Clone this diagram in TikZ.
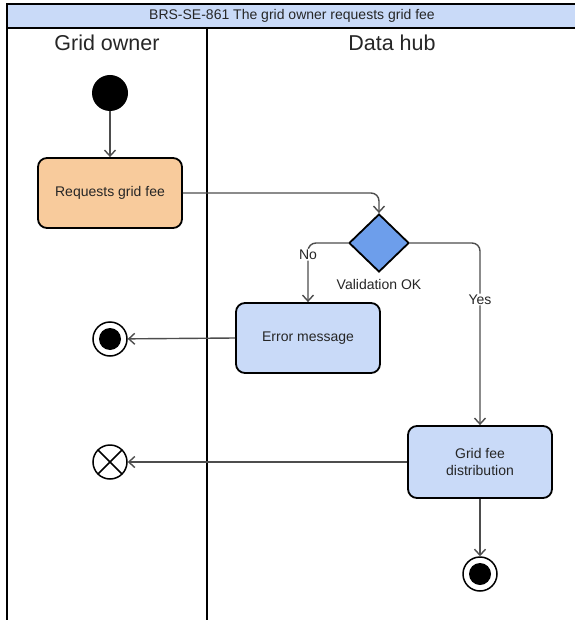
\documentclass[tikz,border=0pt]{standalone}
\usepackage{fontspec}
\setmainfont{Liberation Sans}
\usetikzlibrary{shapes.geometric,arrows.meta}
\definecolor{peach}{HTML}{F8CB9C}
\definecolor{lblue}{HTML}{C9DAF8}
\definecolor{dblue}{HTML}{6D9EEB}
\definecolor{txt}{HTML}{262626}
\definecolor{conn}{HTML}{4D4D4D}
\tikzset{
  actbox/.style={draw=black, line width=1.8pt, rounded corners=9pt, minimum width=144pt, minimum height=70pt, inner sep=0pt, align=center, text=txt, font=\fontsize{14}{17}\selectfont},
  connline/.style={draw=conn, line width=1.4pt, -{Straight Barb[length=6pt,width=11pt]}, rounded corners=8pt},
  lbl/.style={text=txt, font=\fontsize{14}{17}\selectfont, inner sep=1pt},
  lane/.style={line width=2pt, draw=black},
  endstate/.style={circle, draw=black, line width=1.5pt, minimum size=34pt, inner sep=0pt, fill=white,
     path picture={\fill[black] (path picture bounding box.center) circle (11pt);}},
  xstate/.style={circle, draw=black, line width=1.5pt, minimum size=34pt, inner sep=0pt, fill=white,
     path picture={\draw[line width=1.5pt] (path picture bounding box.north east) -- (path picture bounding box.south west)
       (path picture bounding box.north west) -- (path picture bounding box.south east);}}
}
\begin{document}
\begin{tikzpicture}[x=1pt,y=-1pt]
\useasboundingbox (0,0) rectangle (574,620);
\fill[white] (0,0) rectangle (574,620);
% swimlanes
\draw[lane] (7,28) -- (7,622);
\draw[lane] (207,28) -- (207,622);
\draw[lane, fill=lblue] (7,4) rectangle (578,28);
\node[lbl] (title) at (292,16) {BRS-SE-861 The grid owner requests grid fee};
\node[text=txt, font=\fontsize{21.5}{24}\selectfont] (h1) at (107,43) {Grid owner};
\node[text=txt, font=\fontsize{21.5}{24}\selectfont] (h2) at (392,43) {Data hub};
% nodes
\node[circle, fill=black, minimum size=36pt, inner sep=0pt] (start) at (110,93) {};
\node[actbox, fill=peach] (req) at (110,193) {Requests grid fee};
\node[diamond, draw=black, line width=1.8pt, fill=dblue, minimum width=60pt, minimum height=58pt, inner sep=0pt] (val) at (379,243) {};
\node[lbl] (vallbl) at (379,284) {Validation OK};
\node[actbox, fill=lblue] (err) at (308,338) {Error message};
\node[actbox, fill=lblue, minimum height=72pt] (gfd) at (480,462) {Grid fee\\distribution};
\node[endstate] (end1) at (110,339) {};
\node[xstate] (xend) at (110,462) {};
\node[endstate] (end2) at (480,574) {};
% connectors
\draw[connline] (start) -- (req);
\draw[connline] (req.east) -| (val.north);
\draw[connline] (val.west) -| node[lbl, fill=white, pos=0.6] {No} (err.north);
\draw[connline] (val.east) -| node[lbl, fill=white, pos=0.655] {Yes} (gfd.north);
\draw[connline] (err.west) -- (end1);
\draw[connline] (gfd.west) -- (xend);
\draw[connline] (gfd.south) -- (end2);
\end{tikzpicture}
\end{document}
